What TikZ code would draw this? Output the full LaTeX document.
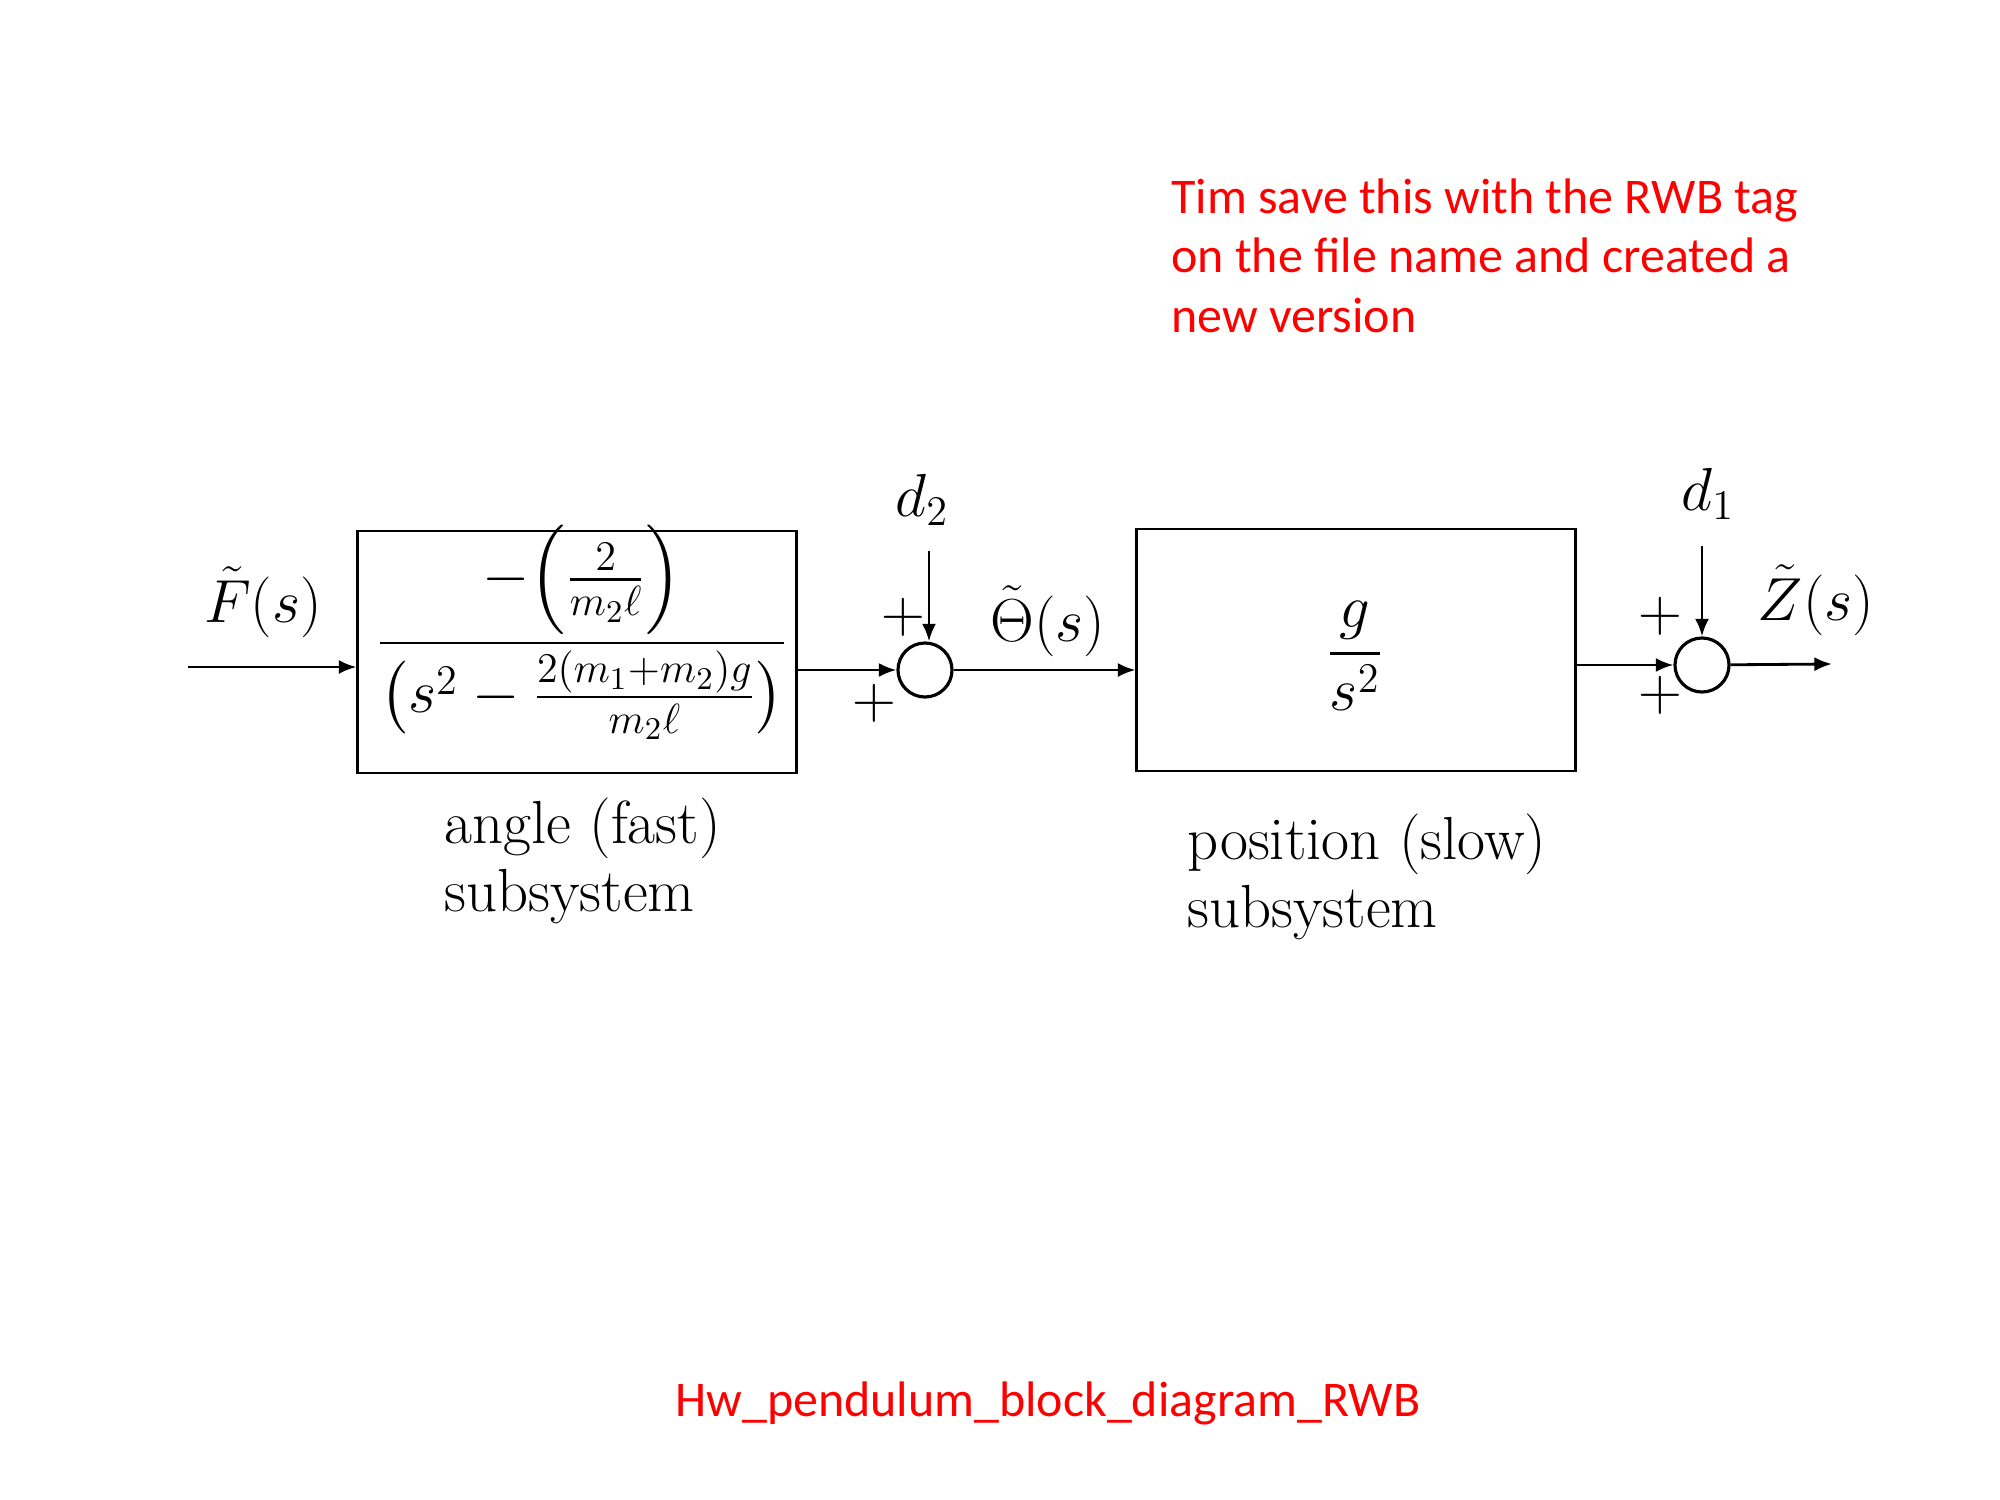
\documentclass[tikz,border=0pt]{standalone}
\usepackage{amsmath}
\usepackage{fontspec}
\newfontfamily\notefont{Carlito}
\usetikzlibrary{arrows.meta}
\begin{document}
\begin{tikzpicture}[x=0.01cm,y=-0.01cm,
  every node/.style={font=\fontsize{17.3}{19.5}\selectfont},
  blockbox/.style={draw,line width=0.8pt,minimum width=4.38cm,minimum height=2.42cm,inner sep=0pt},
  sumnode/.style={draw,circle,line width=0.9pt,minimum size=0.54cm,inner sep=0pt},
  arr/.style={line width=0.8pt,-{Latex[length=5pt,width=4pt]}},
  note/.style={text=red,font=\notefont\fontsize{14.2}{17}\selectfont},
  sublabel/.style={align=left,anchor=west}]
\useasboundingbox (0,0) rectangle (2000,1500);
% blocks
\node[blockbox] (b1) at (577,652) {};
\node[anchor=base] (f1) at (582,658) {$\dfrac{-\Bigl(\frac{2}{m_2\ell}\Bigr)}{\bigl(s^2-\frac{2(m_1+m_2)g}{m_2\ell}\bigr)}$};
\node[blockbox] (b2) at (1356,650) {};
\node (f2) at (1355,656) {$\dfrac{g}{s^2}$};
% summing junctions
\node[sumnode] (s1) at (925,670) {};
\node[sumnode] (s2) at (1702,665) {};
% free ends
\coordinate (in) at (188,667);
\coordinate (out) at (1832,664);
\coordinate (d2top) at (929,551);
\coordinate (d1top) at (1702,546);
% signals
\node (F) at (263,602) {$\tilde F(s)$};
\node (Th) at (1048,621) {$\tilde\Theta(s)$};
\node (Z) at (1816,600) {$\tilde Z(s)$};
\node (d2) at (922,500) {$d_2$};
\node (d1) at (1708,494) {$d_1$};
% signs
\node (p1) at (903,617) {$+$};
\node (p2) at (874,703) {$+$};
\node (p3) at (1660,616) {$+$};
\node (p4) at (1660,695) {$+$};
% connectors
\draw[arr] (in) -- (in -| b1.west);
\draw[arr] (b1.east |- s1) -- (s1);
\draw[arr] (s1) -- (s1 -| b2.west);
\draw[arr] (b2.east |- s2) -- (s2);
\draw[arr] (s2) -- (out);
\draw[arr] (d2top) -- (d2top |- s1.north);
\draw[arr] (d1top) -- (s2);
% sublabels
\node[sublabel] (l1) at (432,861) {angle (fast)\\subsystem};
\node[sublabel] (l2) at (1175,877) {position (slow)\\subsystem};
% notes
\node[note,align=left,anchor=north west] (n1) at (1159,166) {Tim save this with the RWB tag\\on the file name and created a\\new version};
\node[note] (n2) at (1048,1403) {Hw\_pendulum\_block\_diagram\_RWB};
\end{tikzpicture}
\end{document}
